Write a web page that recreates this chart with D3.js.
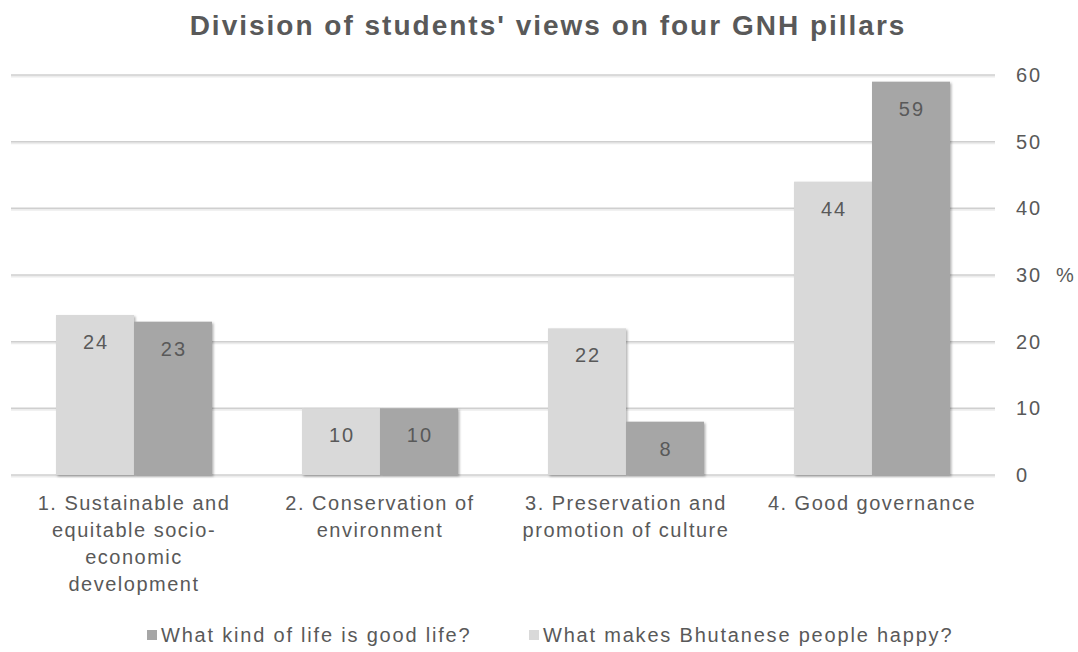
<!DOCTYPE html>
<html>
<head>
<meta charset="utf-8">
<script src="https://cdn.jsdelivr.net/npm/d3@7"></script>
<style>
    body { margin: 0; background: #fff; }
    text { font-family: "Liberation Sans", Arial, sans-serif; fill: #595959; }
</style>
</head>
<body>
<svg class="canvas" width="1078" height="652"></svg>
<script>
// data
var categories = [
    ['1. Sustainable and', 'equitable socio-', 'economic', 'development'],
    ['2. Conservation of', 'environment'],
    ['3. Preservation and', 'promotion of culture'],
    ['4. Good governance']
];
var happyValues = [24, 10, 22, 44];      // What makes Bhutanese people happy?
var goodLifeValues = [23, 10, 8, 59];    // What kind of life is good life?
var seriesNames = ['What kind of life is good life?', 'What makes Bhutanese people happy?'];
var yTicks = [0, 10, 20, 30, 40, 50, 60];

var colors = { happy: '#d9d9d9', goodLife: '#a6a6a6' };
var margin = { top: 75, right: 83, bottom: 177, left: 11 };
var width = 1078, height = 652;
var chartWidth = width - margin.left - margin.right;
var chartHeight = height - margin.top - margin.bottom;

var svg = d3.select('.canvas');

var defs = svg.append('defs');
var shadow = defs.append('filter').attr('id', 'shadow')
    .attr('x', '-10%').attr('y', '-10%').attr('width', '130%').attr('height', '130%');
shadow.append('feDropShadow')
    .attr('dx', 1.5).attr('dy', 1.5).attr('stdDeviation', 1.2)
    .attr('flood-color', '#000').attr('flood-opacity', 0.3);

svg.append('text')
    .attr('x', 548).attr('y', 35)
    .attr('text-anchor', 'middle')
    .style('font-size', '28px').style('font-weight', 'bold')
    .style('letter-spacing', '2px')
    .text("Division of students' views on four GNH pillars");

var chart = svg.append('g')
    .attr('transform', 'translate(' + margin.left + ',' + margin.top + ')');

var x = d3.scaleBand()
    .domain(d3.range(categories.length))
    .range([0, chartWidth])
    .paddingInner(0.366)
    .paddingOuter(0.183);

var xSub = d3.scaleBand()
    .domain(['happy', 'goodLife'])
    .range([0, x.bandwidth()]);

var y = d3.scaleLinear().domain([0, 60]).range([chartHeight, 0]);

// gridlines (a soft lighter line under each one, like the shadow in the original)
chart.selectAll('.grid-shade')
    .data(yTicks)
    .enter().append('line')
    .classed('grid-shade', true)
    .attr('x1', 0).attr('x2', chartWidth)
    .attr('y1', d => y(d) + 1.5).attr('y2', d => y(d) + 1.5)
    .attr('stroke', '#ececec')
    .attr('stroke-width', 2);

chart.selectAll('.grid')
    .data(yTicks)
    .enter().append('line')
    .classed('grid', true)
    .attr('x1', 0).attr('x2', chartWidth)
    .attr('y1', d => y(d)).attr('y2', d => y(d))
    .attr('stroke', '#cfcfcf')
    .attr('stroke-width', 1.5);

// right axis labels
var yAxis = d3.axisRight(y).tickValues(yTicks).tickSize(0).tickPadding(21);
var axisG = chart.append('g')
    .attr('transform', 'translate(' + chartWidth + ',0)')
    .call(yAxis);
axisG.select('.domain').remove();
axisG.selectAll('text')
    .style('font-size', '20px')
    .style('letter-spacing', '2px')
    .attr('fill', '#595959');

svg.append('text')
    .attr('x', 1065).attr('y', margin.top + y(30))
    .attr('dy', '0.35em')
    .attr('text-anchor', 'middle')
    .style('font-size', '20px')
    .text('%');

// bars
var rows = categories.map((c, i) => ({ i: i, happy: happyValues[i], goodLife: goodLifeValues[i] }));

var groups = chart.selectAll('.group')
    .data(rows)
    .enter().append('g')
    .classed('group', true)
    .attr('transform', d => 'translate(' + x(d.i) + ',0)');

var bars = groups.selectAll('.bar')
    .data(d => ['happy', 'goodLife'].map(k => ({ key: k, value: d[k] })))
    .enter();

bars.append('rect')
    .classed('bar', true)
    .attr('x', d => xSub(d.key))
    .attr('y', d => y(d.value))
    .attr('width', xSub.bandwidth())
    .attr('height', d => chartHeight - y(d.value))
    .attr('fill', d => colors[d.key])
    .attr('filter', 'url(#shadow)');

bars.append('text')
    .attr('x', d => xSub(d.key) + xSub.bandwidth() / 2 + 1)
    .attr('y', d => y(d.value) + 34)
    .attr('text-anchor', 'middle')
    .style('font-size', '20px')
    .style('letter-spacing', '2px')
    .attr('fill', '#404040')
    .text(d => d.value);

// category labels
var labels = chart.selectAll('.cat')
    .data(categories)
    .enter().append('text')
    .classed('cat', true)
    .attr('x', (d, i) => x(i) + x.bandwidth() / 2)
    .attr('y', chartHeight + 35)
    .attr('text-anchor', 'middle')
    .style('font-size', '20px')
    .style('letter-spacing', '1.5px');

labels.selectAll('tspan')
    .data(d => d)
    .enter().append('tspan')
    .attr('x', function () { return this.parentNode.getAttribute('x'); })
    .attr('dy', (d, i) => i === 0 ? 0 : 27)
    .text(d => d);

// legend
var legendItems = [
    { name: seriesNames[0], color: colors.goodLife, x: 147 },
    { name: seriesNames[1], color: colors.happy, x: 529 }
];
var legend = svg.selectAll('.legend')
    .data(legendItems)
    .enter().append('g')
    .classed('legend', true)
    .attr('transform', d => 'translate(' + d.x + ',635)');

legend.append('rect')
    .attr('x', 0).attr('y', -5)
    .attr('width', 10).attr('height', 10)
    .attr('fill', d => d.color);

legend.append('text')
    .attr('x', 14).attr('dy', '0.35em')
    .style('font-size', '20px')
    .style('letter-spacing', '1.8px')
    .text(d => d.name);
</script>
</body>
</html>
